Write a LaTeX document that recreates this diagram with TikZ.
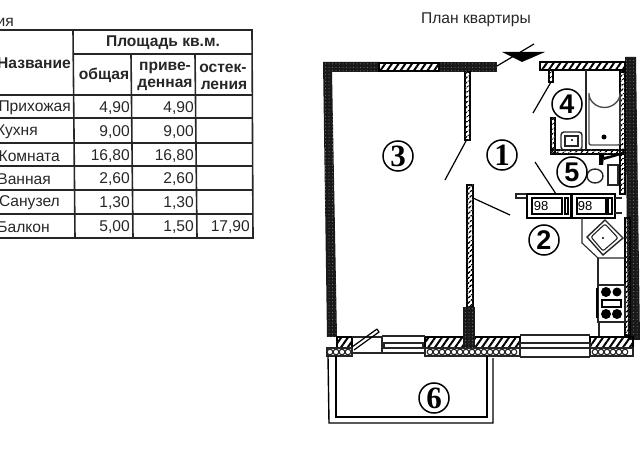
\documentclass[tikz,border=0pt]{standalone}
\usepackage{fontspec}
\setmainfont{Liberation Sans}
\newfontfamily\numfont{Liberation Serif}
\usetikzlibrary{patterns.meta}
\tikzset{
    tline/.style = {line width=1.6pt,black!85},
    ttext/.style = {inner sep=0pt,text=black!85,font=\fontsize{15.6}{17}\selectfont},
    thead/.style = {ttext,font=\fontsize{15.6}{17}\selectfont\bfseries},
    room/.style = {draw,circle,line width=1.5pt,minimum size=30pt,inner sep=0pt,font=\fontsize{27}{27}\selectfont\bfseries},
    roomb/.style = {room,font=\numfont\fontsize{31}{31}\selectfont\bfseries},
    darkwall/.style = {fill=black!90,postaction={pattern={Dots[radius=0.5pt,distance=3.5pt]},pattern color=black!50}},
    hatchwall/.style = {draw,line width=1.1pt,postaction={pattern={Lines[angle=55,distance=5.5pt,line width=2pt]}}},
    thinwall/.style = {draw,line width=1.1pt,postaction={pattern={Lines[angle=40,distance=4pt,line width=1.8pt]}}},
    leaf/.style = {line width=1.2pt},
    fixture/.style = {line width=1.1pt,black!85}
}
\begin{document}
\begin{tikzpicture}[x=1pt,y=-1pt]
            \useasboundingbox (0,0) rectangle (640,470);

            % table
            \node[ttext,anchor=east] (T0) at (14,22) {ия};
            \draw[tline] (0,30)--(252,30)--(253,238)--(0,238);
            \draw[tline] (73,30)--(75,238);
            \draw[tline] (131,54)--(133,238);
            \draw[tline] (195,54)--(197,238);
            \draw[tline] (73,54)--(252,54);
            \draw[tline] (0,95)--(252,95);
            \draw[tline] (0,118)--(252,118);
            \draw[tline] (0,143)--(252,143);
            \draw[tline] (0,166)--(252,166);
            \draw[tline] (0,190)--(253,190);
            \draw[tline] (0,214)--(253,214);

            \node[thead,anchor=east] (H1) at (71,63) {Название};
            \node[thead] (H2) at (163,43) {Площадь кв.м.};
            \node[thead] (H3) at (104,75) {общая};
            \node[thead] (H4) at (165,68) {приве-};
            \node[thead] (H5) at (165,85) {денная};
            \node[thead] (H6) at (223,68) {остек-};
            \node[thead] (H7) at (224,85) {ления};

            \node[ttext,anchor=east] (R1) at (71,108) {Прихожая};
            \node[ttext,anchor=east] (R2) at (38,132) {Кухня};
            \node[ttext,anchor=east] (R3) at (60,156) {Комната};
            \node[ttext,anchor=east] (R4) at (51,179) {Ванная};
            \node[ttext,anchor=east] (R5) at (60,203) {Санузел};
            \node[ttext,anchor=east] (R6) at (50,227) {Балкон};

            \node[ttext,anchor=east] (A1) at (130,108) {4,90};
            \node[ttext,anchor=east] (A2) at (130,132) {9,00};
            \node[ttext,anchor=east] (A3) at (130,156) {16,80};
            \node[ttext,anchor=east] (A4) at (130,179) {2,60};
            \node[ttext,anchor=east] (A5) at (130,203) {1,30};
            \node[ttext,anchor=east] (A6) at (130,227) {5,00};

            \node[ttext,anchor=east] (B1) at (194,108) {4,90};
            \node[ttext,anchor=east] (B2) at (194,132) {9,00};
            \node[ttext,anchor=east] (B3) at (194,156) {16,80};
            \node[ttext,anchor=east] (B4) at (194,179) {2,60};
            \node[ttext,anchor=east] (B5) at (194,203) {1,30};
            \node[ttext,anchor=east] (B6) at (194,227) {1,50};
            \node[ttext,anchor=east] (C6) at (250,227) {17,90};

            % plan title
            \node[ttext] (P0) at (476,20) {План квартиры};

            % outer walls
            \fill[darkwall] (323,62)--(379,62)--(379,72)--(332,72)--(337,337)--(327,337)--cycle;
            \fill[darkwall] (439,62)--(497,62)--(497,72)--(439,72)--cycle;
            \path[hatchwall] (379,63) rectangle (439,71);
            \fill[darkwall] (625,57)--(636,57)--(640,340)--(628,340)--cycle;

            % bottom wall
            \path[hatchwall] (337,337) rectangle (352,348);
            \path[hatchwall] (425,337) rectangle (520,348);
            \path[hatchwall] (590,337) rectangle (633,348);
            \draw[fixture] (327,348) rectangle (352,356);
            \draw[fixture] (425,348) rectangle (520,356);
            \draw[fixture] (590,348) rectangle (633,356);
            \foreach \px in {330,336,342,348,430,436,442,448,454,460,466,472,478,484,490,496,502,508,514,595,601,607,613,619,625}
                \draw[fixture] (\px,352) circle (2.8);
            \draw[fixture] (352,337)--(382,337)--(382,353)--(352,353);
            \draw[fixture] (382,336)--(425,336) (382,353)--(425,353);
            \draw[fixture] (384,343) rectangle (423,348);
            \draw[fixture] (520,335)--(590,335) (520,357)--(590,357);
            \draw[fixture] (520,343) rectangle (590,348);

            % inner walls
            \path[thinwall] (465,72) rectangle (470,140);
            \path[thinwall] (467,185) rectangle (473,307);
            \fill[darkwall] (463,307)--(475,307)--(475,348)--(463,348)--cycle;
            \path[thinwall] (620,72) rectangle (625,194);
            \path[thinwall] (625,218) rectangle (630,335);

            % bathroom walls
            \path[hatchwall] (540,62) rectangle (625,70);
            \path[thinwall] (549,70) rectangle (553,82);
            \path[thinwall] (551,118) rectangle (555,154);
            \path[thinwall] (551,150) rectangle (623,154);

            % door leaves
            \draw[leaf] (466,141)--(445,180);
            \draw[leaf] (473,198)--(510,215);
            \draw[leaf] (551,82)--(533,113);
            \draw[leaf] (535,162)--(556,194);
            \draw[leaf] (352,347)--(377,329) (354,350)--(379,332)--(377,329);

            % entrance
            \fill (502,52)--(545,52)--(522,62)--cycle;
            \draw[leaf] (497,66)--(534,44);

            % balcony
            \draw[line width=1.4pt] (328,356)--(329,423)--(493,423)--(493,358);
            \draw[line width=1.4pt] (336,356)--(336,417)--(487,417)--(487,356);

            % bath, sink, toilet
            \draw[fixture] (586,70)--(586,150);
            \draw[fixture,line width=1.4pt,black!70,rounded corners=2pt] (589,145)--(589,92) arc[start angle=180,end angle=0,x radius=15.5,y radius=15.5]--(620,145)--cycle;
            \fill (604,137) circle (2.5);
            \draw[fixture,line width=1.4pt,rounded corners=3pt] (561,132) rectangle (582,150);
            \draw[fixture] (565,136) rectangle (578,146);
            \fill (572,140) circle (1.2);
            \fill (599,153)--(604,153)--(604,160)--(621,155)--(621,153)--(604,157)--(603,165)--(599,165)--cycle;
            \draw[fixture,line width=1.4pt] (608,165) rectangle (618,185);
            \draw[fixture,line width=1.4pt] (595,176) ellipse (8 and 7);

            % ventilation shafts
            \draw[fixture,line width=1.3pt] (516,194) rectangle (527,198);
            \draw[line width=1.6pt] (527,194) rectangle (571,218);
            \draw[line width=1.6pt] (572,194) rectangle (615,218);
            \draw[fixture] (615,198)--(622,198) (615,213)--(622,213);
            \draw[line width=1.3pt] (532,198) rectangle (562,214);
            \draw[line width=1.3pt] (565,198) rectangle (568,214);
            \draw[line width=1.3pt] (577,198) rectangle (606,214);
            \draw[line width=1.3pt] (608,198) rectangle (612,214);
            \node[inner sep=0pt,font=\fontsize{13}{13}\selectfont] (V1) at (541,206) {98};
            \node[inner sep=0pt,font=\fontsize{13}{13}\selectfont] (V2) at (585,206) {98};

            % kitchen
            \draw[fixture] (582,218)--(582,243)--(598,258)--(625,258);
            \draw[fixture,line width=1.4pt] (605,220)--(623,238)--(603,255)--(587,237)--cycle;
            \draw[fixture,rounded corners=2pt] (605,224)--(618,238)--(603,251)--(591,237)--cycle;
            \fill (603,238) circle (1.2);
            \draw[fixture] (598,258)--(598,285)--(625,285);
            \draw[fixture] (598,285) rectangle (625,322);
            \draw[line width=1.6pt] (597,288)--(597,318);
            \fill (606,292) circle (5) (617,292) circle (4.5) (606,314) circle (5) (617,314) circle (5);
            \draw[line width=1.3pt] (602,300) rectangle (621,307);
            \draw[fixture] (599,322)--(599,336);

            % room numbers
            \node[roomb] (N3) at (398,156) {3};
            \node[roomb] (N1) at (502,155) {1};
            \node[room] (N4) at (567,104) {4};
            \node[room,fill=white] (N5) at (572,172) {5};
            \node[room] (N2) at (544,240) {2};
            \node[roomb] (N6) at (434,398) {6};
        \end{tikzpicture}
\end{document}
